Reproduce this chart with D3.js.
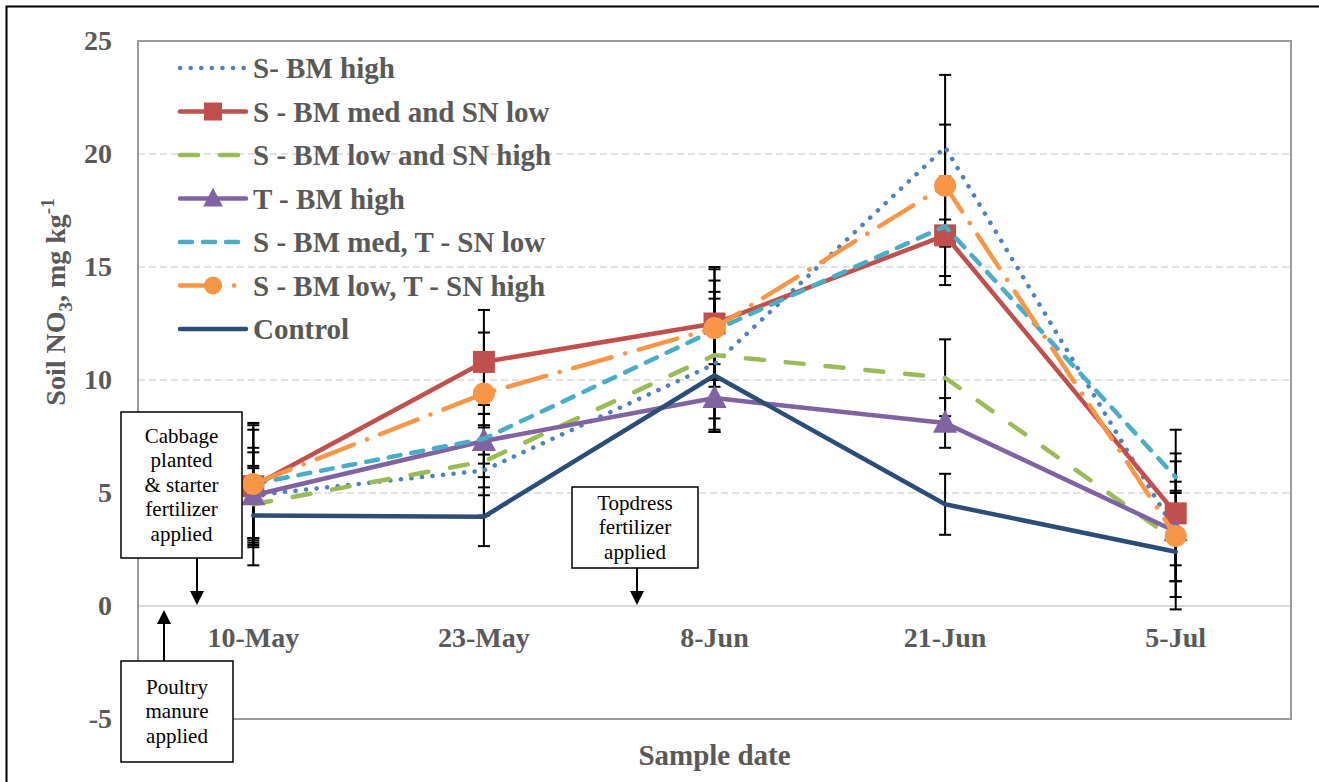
<!DOCTYPE html>
<html>
<head>
<meta charset="utf-8">
<script src="https://cdnjs.cloudflare.com/ajax/libs/d3/7.8.5/d3.min.js"></script>
<style>
  html, body { margin: 0; padding: 0; background: #fff; }
  svg { display: block; }
  svg text { font-family: "Liberation Serif", "Tinos", "Times New Roman", "DejaVu Serif", serif; }
</style>
</head>
<body>
<div id="chart"></div>
<script>
// categories and tick labels
const dates = ["10-May", "23-May", "8-Jun", "21-Jun", "5-Jul"];
const yTicks = [-5, 0, 5, 10, 15, 20, 25];

// series names
const names = [
  "S- BM high",
  "S - BM med and SN low",
  "S - BM low and SN high",
  "T - BM high",
  "S - BM med, T - SN low",
  "S - BM low, T - SN high",
  "Control"
];

// soil NO3 means, mg/kg
const bmHigh      = [4.9, 6.0, 10.7, 20.3, 3.3];
const bmMedSnLow  = [5.3, 10.8, 12.5, 16.4, 4.1];
const bmLowSnHigh = [4.5, 6.4, 11.1, 10.1, 2.9];
const tBmHigh     = [4.9, 7.3, 9.2, 8.1, 3.3];
const bmMedTSnLow = [5.4, 7.4, 12.2, 16.8, 5.7];
const bmLowTSnHi  = [5.4, 9.4, 12.3, 18.6, 3.1];
const control     = [4.0, 3.95, 10.2, 4.5, 2.4];

// +/- error (same order)
const errBmHigh      = [1.9, 2.0, 2.9, 3.2, 3.45];
const errBmMedSnLow  = [2.7, 2.3, 2.5, 2.2, 3.7];
const errBmLowSnHigh = [1.6, 1.5, 2.8, 1.7, 1.1];
const errTBmHigh     = [2.1, 1.6, 1.5, 1.1, 2.2];
const errBmMedTSnLow = [2.4, 1.1, 2.2, 2.2, 0.7];
const errBmLowTSnHi  = [2.7, 2.7, 2.6, 2.7, 2.0];
const errControl     = [2.2, 1.3, 2.5, 1.35, 1.3];

const values = [bmHigh, bmMedSnLow, bmLowSnHigh, tBmHigh, bmMedTSnLow, bmLowTSnHi, control];
const errors = [errBmHigh, errBmMedSnLow, errBmLowSnHigh, errTBmHigh, errBmMedTSnLow, errBmLowTSnHi, errControl];

const styles = [
  { color: "#4F81BD", dash: "0.1 10.5", marker: null },
  { color: "#C0504D", dash: null, marker: "square" },
  { color: "#9BBB59", dash: "18 22", marker: null },
  { color: "#8064A2", dash: null, marker: "triangle" },
  { color: "#4BACC6", dash: "12 11", marker: null },
  { color: "#F79646", dash: "40 14 0.1 14", marker: "circle" },
  { color: "#2C4D75", dash: null, marker: null }
];

const W = 1319, H = 782;
const plot = { left: 138, right: 1291, top: 41, bottom: 719 };
const textGray = "#595959";
const serif = '"Liberation Serif", "Tinos", "Times New Roman", "DejaVu Serif", serif';

const svg = d3.select("#chart").append("svg")
  .attr("width", W).attr("height", H);

// outer chart border
svg.append("rect")
  .attr("x", 6.5).attr("y", 6.5).attr("width", W + 20).attr("height", H + 20)
  .attr("fill", "none").attr("stroke", "#000").attr("stroke-width", 2);

const x = d3.scaleBand().domain(dates).range([plot.left, plot.right]).padding(0);
const cx = d => x(d) + x.bandwidth() / 2;
const y = d3.scaleLinear().domain([-5, 25]).range([plot.bottom, plot.top]);

// gridlines
svg.append("g").selectAll("line")
  .data(yTicks.filter(t => t > 0 && t < 25))
  .join("line")
  .attr("x1", plot.left).attr("x2", plot.right)
  .attr("y1", d => y(d)).attr("y2", d => y(d))
  .attr("stroke", "#D9D9D9").attr("stroke-width", 1.5)
  .attr("stroke-dasharray", "7 4");

// zero line
svg.append("line")
  .attr("x1", plot.left).attr("x2", plot.right)
  .attr("y1", y(0)).attr("y2", y(0))
  .attr("stroke", "#D9D9D9").attr("stroke-width", 2);

// plot frame
svg.append("rect")
  .attr("x", plot.left).attr("y", plot.top)
  .attr("width", plot.right - plot.left).attr("height", plot.bottom - plot.top)
  .attr("fill", "none").attr("stroke", "#9A9A9A").attr("stroke-width", 2);

// y axis labels
const yAxis = svg.append("g")
  .attr("transform", `translate(${plot.left},0)`)
  .call(d3.axisLeft(y).tickValues(yTicks).tickSize(0).tickPadding(26).tickFormat(d => String(d)));
yAxis.select(".domain").remove();
yAxis.attr("font-family", null);
yAxis.selectAll("text")
  .style("font-family", serif)
  .style("font-size", "28px").style("font-weight", "bold")
  .attr("fill", textGray);

// x axis labels
const xAxis = svg.append("g")
  .attr("transform", `translate(0,${y(0)})`)
  .call(d3.axisBottom(x).tickSize(0).tickPadding(21));
xAxis.select(".domain").remove();
xAxis.attr("font-family", null);
xAxis.selectAll("text")
  .style("font-family", serif)
  .style("font-size", "28px").style("font-weight", "bold")
  .attr("fill", textGray);

// axis titles
svg.append("text")
  .attr("x", (plot.left + plot.right) / 2).attr("y", 765)
  .attr("text-anchor", "middle")
  .style("font-family", serif)
  .style("font-size", "29px").style("font-weight", "bold")
  .attr("fill", textGray)
  .text("Sample date");

const yTitle = svg.append("text")
  .attr("transform", "translate(65,302) rotate(-90)")
  .attr("text-anchor", "middle")
  .style("font-family", serif)
  .style("font-size", "28px").style("font-weight", "bold")
  .attr("fill", textGray);
yTitle.append("tspan").text("Soil NO");
yTitle.append("tspan").attr("dy", 7).style("font-size", "19px").text("3");
yTitle.append("tspan").attr("dy", -7).text(", mg kg");
yTitle.append("tspan").attr("dy", -11).style("font-size", "19px").text("-1");

// error bars
const ebar = svg.append("g").attr("stroke", "#000").attr("stroke-width", 2);
values.forEach((vals, s) => {
  vals.forEach((v, i) => {
    const e = errors[s][i];
    const px = cx(dates[i]);
    ebar.append("line").attr("x1", px).attr("x2", px).attr("y1", y(v - e)).attr("y2", y(v + e));
    ebar.append("line").attr("x1", px - 6).attr("x2", px + 6).attr("y1", y(v - e)).attr("y2", y(v - e));
    ebar.append("line").attr("x1", px - 6).attr("x2", px + 6).attr("y1", y(v + e)).attr("y2", y(v + e));
  });
});

// lines
const line = d3.line().x((d, i) => cx(dates[i])).y(d => y(d));
const seriesG = svg.append("g");

function drawMarker(g, type, px, py, color, size) {
  if (type === "square") {
    g.append("rect").attr("x", px - size / 2).attr("y", py - size / 2)
      .attr("width", size).attr("height", size).attr("fill", color);
  } else if (type === "triangle") {
    const h = size;
    g.append("path")
      .attr("d", `M${px},${py - h * 0.6}L${px + h * 0.55},${py + h * 0.45}L${px - h * 0.55},${py + h * 0.45}Z`)
      .attr("fill", color);
  } else if (type === "circle") {
    g.append("circle").attr("cx", px).attr("cy", py).attr("r", size / 2).attr("fill", color);
  }
}

values.forEach((vals, s) => {
  const st = styles[s];
  const g = seriesG.append("g");
  g.append("path")
    .datum(vals)
    .attr("d", line)
    .attr("fill", "none")
    .attr("stroke", st.color)
    .attr("stroke-width", 4.5)
    .attr("stroke-linecap", "round")
    .attr("stroke-linejoin", "round")
    .attr("stroke-dasharray", st.dash);
  if (st.marker) {
    vals.forEach((v, i) => drawMarker(g, st.marker, cx(dates[i]), y(v), st.color, 22));
  }
});

// legend
const legend = svg.append("g");
const legX0 = 178, legX1 = 248, legY0 = 68, legStep = 43.5;
names.forEach((n, s) => {
  const st = styles[s];
  const ly = legY0 + s * legStep;
  const g = legend.append("g");
  g.append("line")
    .attr("x1", legX0 + 2).attr("x2", legX1 - 2).attr("y1", ly).attr("y2", ly)
    .attr("stroke", st.color).attr("stroke-width", 4.5)
    .attr("stroke-linecap", "round")
    .attr("stroke-dasharray", st.dash);
  if (st.marker) drawMarker(g, st.marker, (legX0 + legX1) / 2, ly, st.color, 18);
  g.append("text")
    .attr("x", legX1 + 5).attr("y", ly)
    .attr("dy", "0.35em")
    .style("font-family", serif)
    .style("font-size", "29px").style("font-weight", "bold")
    .attr("fill", textGray)
    .text(n);
});

// annotation boxes with arrows
const notes = [
  { x0: 121, y0: 412, x1: 242, y1: 558, lines: ["Cabbage", "planted", "& starter", "fertilizer", "applied"],
    ax: 197, from: 558, to: 605 },
  { x0: 121, y0: 661, x1: 233, y1: 762, lines: ["Poultry", "manure", "applied"],
    ax: 164, from: 661, to: 610 },
  { x0: 572, y0: 487, x1: 698, y1: 568, lines: ["Topdress", "fertilizer", "applied"],
    ax: 637, from: 568, to: 605 }
];
const ann = svg.append("g");
notes.forEach(n => {
  ann.append("rect")
    .attr("x", n.x0).attr("y", n.y0).attr("width", n.x1 - n.x0).attr("height", n.y1 - n.y0)
    .attr("fill", "#fff").attr("stroke", "#000").attr("stroke-width", 1.5);
  const lh = 24.5;
  const cy0 = (n.y0 + n.y1) / 2 - (n.lines.length - 1) * lh / 2;
  n.lines.forEach((t, i) => {
    ann.append("text")
      .attr("x", (n.x0 + n.x1) / 2).attr("y", cy0 + i * lh)
      .attr("dy", "0.33em")
      .attr("text-anchor", "middle")
      .style("font-family", serif)
      .style("font-size", "21px")
      .attr("fill", "#000")
      .text(t);
  });
  const dir = n.to > n.from ? 1 : -1;
  const headLen = 14;
  ann.append("line")
    .attr("x1", n.ax).attr("x2", n.ax)
    .attr("y1", n.from).attr("y2", n.to - dir * headLen)
    .attr("stroke", "#000").attr("stroke-width", 2);
  ann.append("path")
    .attr("d", `M${n.ax - 7},${n.to - dir * headLen}L${n.ax + 7},${n.to - dir * headLen}L${n.ax},${n.to}Z`)
    .attr("fill", "#000");
});
</script>
</body>
</html>
